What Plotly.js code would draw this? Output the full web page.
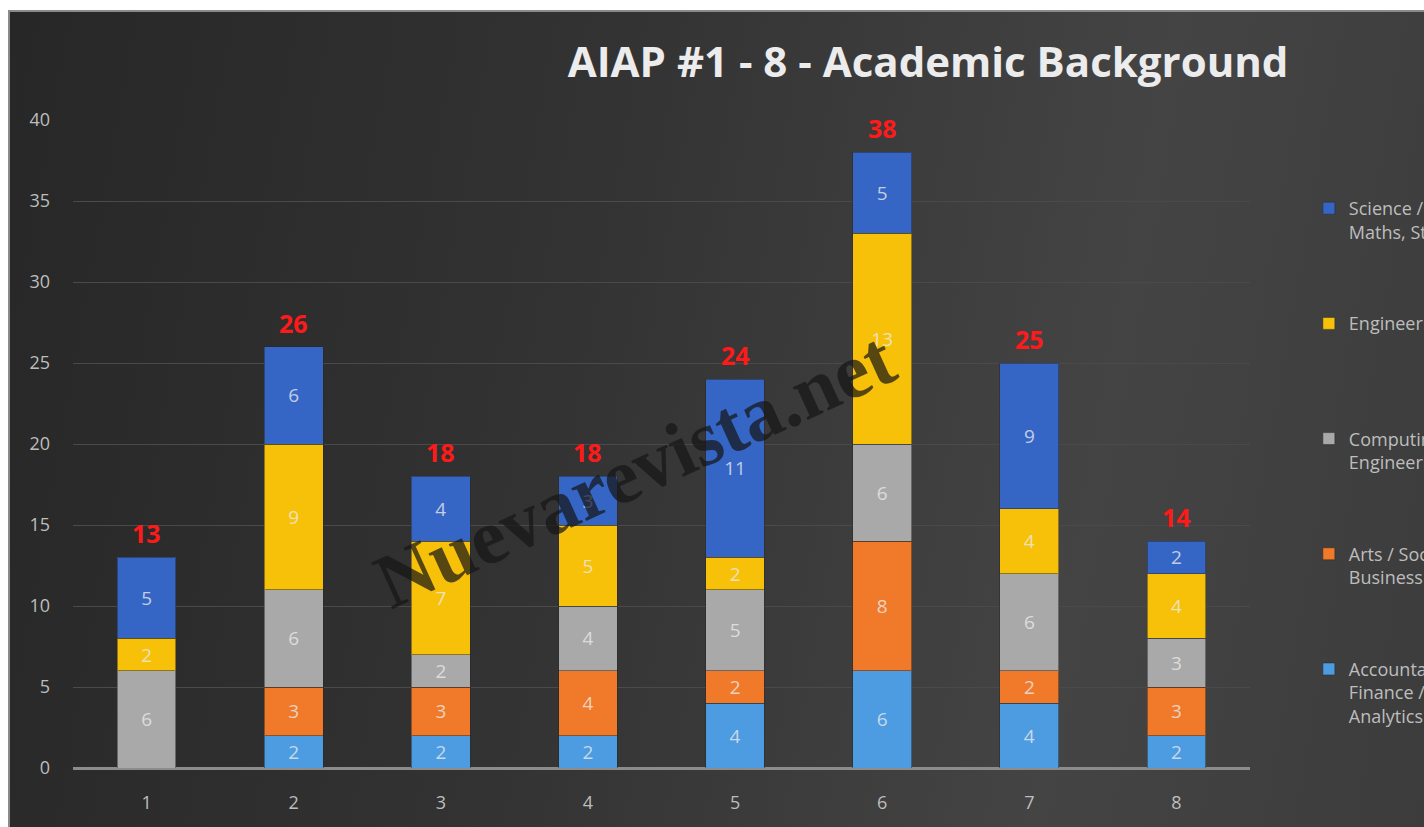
<!DOCTYPE html>
<html>
<head>
<meta charset="utf-8">
<script src="https://cdn.plot.ly/plotly-3.0.1.min.js"></script>
<style>
  html, body { margin: 0; padding: 0; background: #ffffff; width: 1424px; height: 827px; overflow: hidden; }
  #frame { position: absolute; left: 8px; top: 10px; width: 1416px; height: 817px;
           background: #8a8a8a; }
  #chart { position: absolute; left: 2px; top: 2px; width: 1414px; height: 815px;
           background: linear-gradient(100deg, #272727 0%, #333333 40%, #444444 75%, #3c3c3c 100%); }
</style>
</head>
<body>
<div id="frame"><div id="chart"></div></div>
<script>
// Cohorts
const cohorts = ['1', '2', '3', '4', '5', '6', '7', '8'];

// Series values (bottom to top of stack)
const accountancy = [0, 2, 2, 2, 4, 6, 4, 2];
const artsBusiness = [0, 3, 3, 4, 2, 8, 2, 3];
const computing = [6, 6, 2, 4, 5, 6, 6, 3];
const engineering = [2, 9, 7, 5, 2, 13, 4, 4];
const science = [5, 6, 4, 3, 11, 5, 9, 2];

// Legend names
const seriesNames = [
  'Accountancy /<br>Finance /<br>Analytics',
  'Arts / Social Sciences /<br>Business<br>\u00a0',
  'Computing / Computer<br>Engineering<br>\u00a0',
  'Engineering<br>\u00a0<br>\u00a0',
  'Science / Technology /<br>Maths, Statistics<br>\u00a0'
];
const seriesValues = [accountancy, artsBusiness, computing, engineering, science];
const seriesColors = ['#4d9be0', '#f07a2a', '#a9a9a9', '#f7c10a', '#3566c6'];

const FONT = '"Open Sans", "DejaVu Sans", sans-serif';

const traces = seriesValues.map((vals, i) => ({
  type: 'bar',
  x: cohorts,
  y: vals,
  name: seriesNames[i],
  legendgroup: 'g' + i,
  legendrank: 100 - i,
  marker: { color: seriesColors[i], line: { color: 'rgba(40,40,40,0.5)', width: 1 } },
  text: vals.map(v => v ? String(v) : ''),
  textposition: 'inside',
  insidetextanchor: 'middle',
  textangle: 0,
  textfont: { family: FONT, size: 19, color: 'rgba(235,235,235,0.78)' },
  hoverinfo: 'x+y+name'
}));

const totals = cohorts.map((c, j) => seriesValues.reduce((s, arr) => s + arr[j], 0));

const annotations = cohorts.map((c, j) => ({
  x: j, y: totals[j], xref: 'x', yref: 'y',
  text: '<b>' + totals[j] + '</b>',
  showarrow: false, yanchor: 'bottom', yshift: 5,
  font: { family: FONT, size: 25, color: '#ff1a1a' }
}));

annotations.push({
  x: 3.32, y: 18.4, xref: 'x', yref: 'y',
  text: '<b>Nuevarevista.net</b>',
  showarrow: false, textangle: -24.5,
  font: { family: '"Liberation Serif", "DejaVu Serif", serif', size: 78, color: 'rgba(22,22,22,0.72)' }
});

const layout = {
  width: 1414,
  height: 815,
  paper_bgcolor: 'rgba(0,0,0,0)',
  plot_bgcolor: 'rgba(0,0,0,0)',
  margin: { l: 63, r: 174, t: 108, b: 59, autoexpand: false },
  barmode: 'stack',
  bargap: 0.6,
  showlegend: true,
  title: {
    text: '<b>AIAP #1 - 8 - Academic Background</b>',
    x: 0.7265, xanchor: 'center', xref: 'paper',
    y: 0.9387, yanchor: 'middle', yref: 'container',
    font: { family: FONT, size: 42, color: '#ececec' }
  },
  font: { family: FONT, color: '#c0c0c0', size: 18 },
  xaxis: {
    type: 'category',
    showgrid: false,
    showline: false,
    ticks: '',
    ticklabelstandoff: 22,
    tickfont: { family: FONT, size: 18, color: '#bdbdbd' },
    fixedrange: true
  },
  yaxis: {
    range: [0, 40],
    dtick: 5,
    showgrid: true,
    gridcolor: '#4a4a4a',
    gridwidth: 1,
    zeroline: true,
    zerolinecolor: '#8c8c8c',
    zerolinewidth: 3,
    ticks: '',
    ticklabelstandoff: 22,
    tickfont: { family: FONT, size: 18, color: '#bdbdbd' },
    fixedrange: true
  },
  legend: {
    x: 1.05, xanchor: 'left', xref: 'paper',
    y: 0.892, yanchor: 'top', yref: 'paper',
    traceorder: 'grouped',
    tracegroupgap: 42,
    valign: 'top',
    bgcolor: 'rgba(0,0,0,0)',
    font: { family: FONT, size: 18, color: '#bdbdbd' },
    itemclick: false, itemdoubleclick: false
  },
  annotations: annotations
};

Plotly.newPlot('chart', traces, layout, { displayModeBar: false, staticPlot: true });
</script>
</body>
</html>
